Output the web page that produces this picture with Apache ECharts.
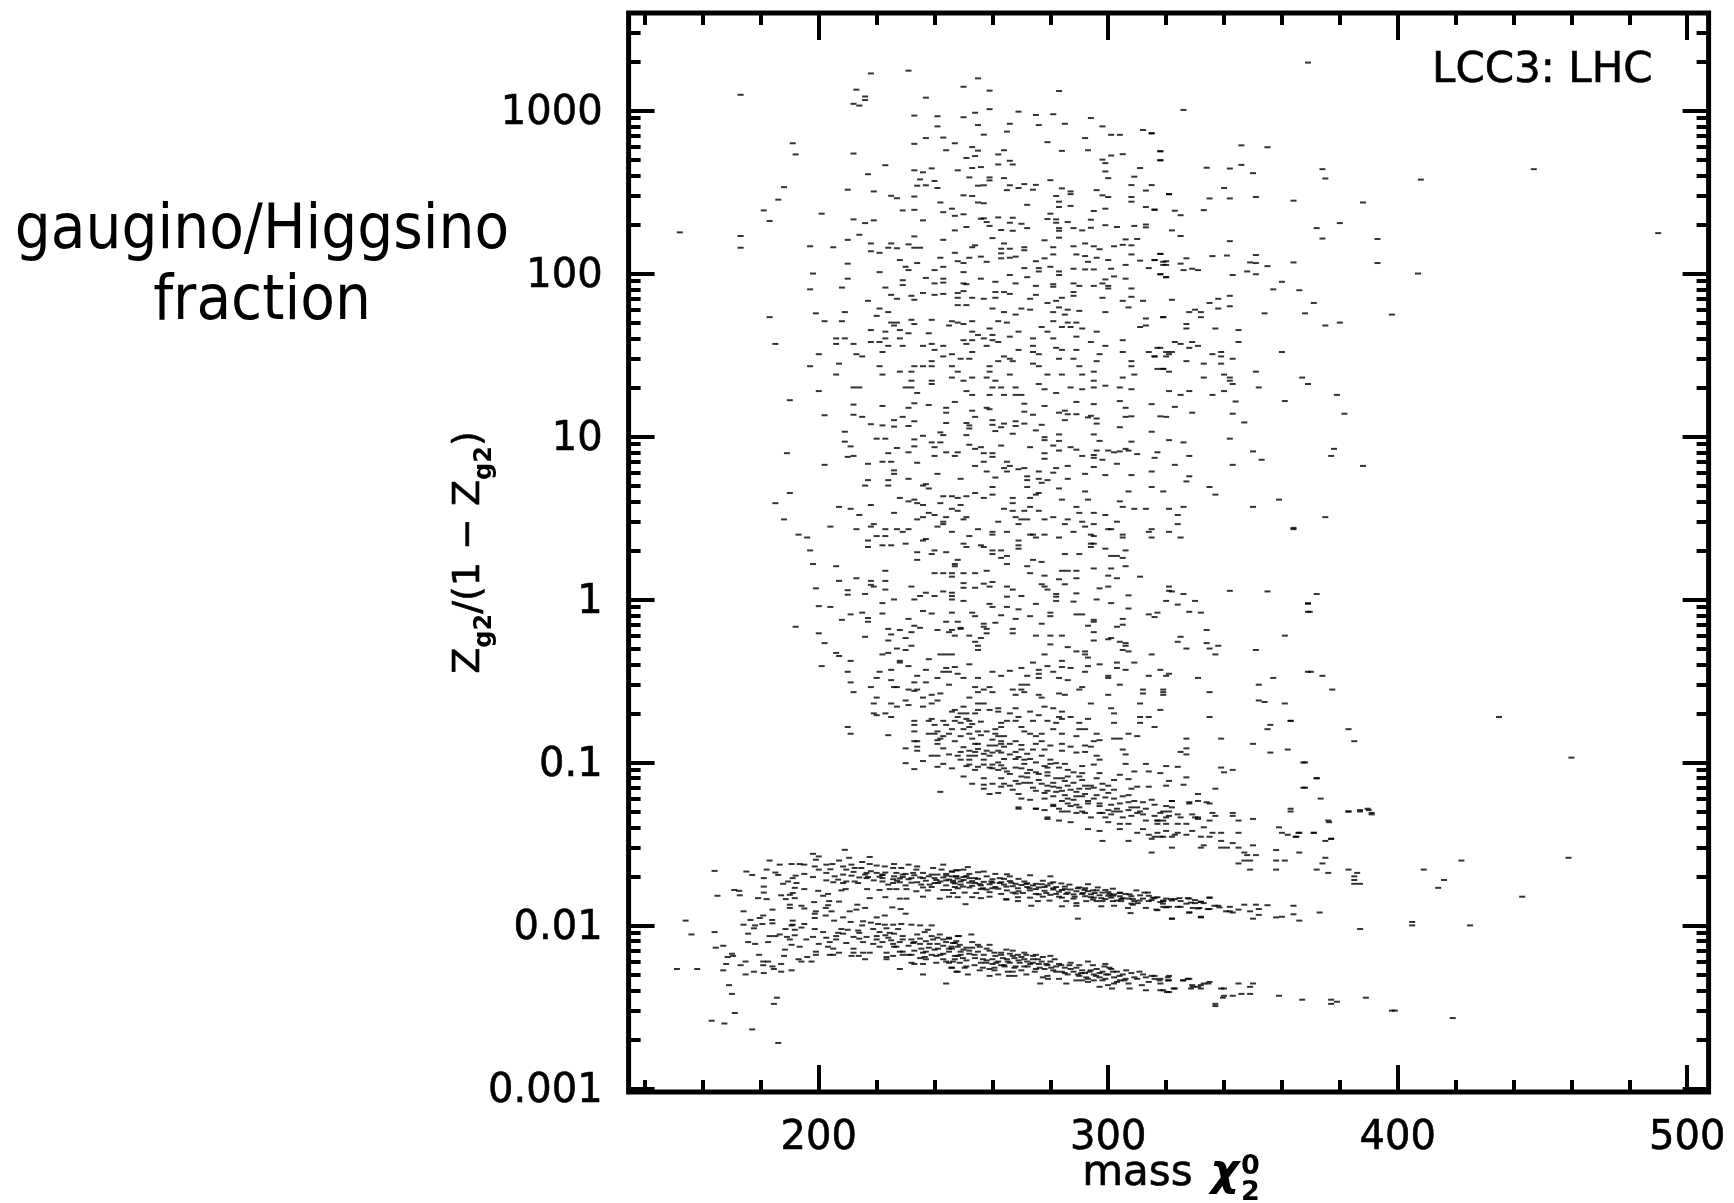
<!DOCTYPE html>
<html><head><meta charset="utf-8">
<style>html,body{margin:0;padding:0;background:#fff}#c{width:1734px;height:1203px}</style>
<script src="https://cdn.jsdelivr.net/npm/echarts@6/dist/echarts.min.js"></script></head>
<body><div id="c"></div>
<script>
const xMajor=[200,300,400,500];
const xMinor=[140,160,180,220,240,260,280,320,340,360,380,420,440,460,480];
const yMajor=[0.001,0.01,0.1,1,10,100,1000];
const yMinor=[0.002,0.003,0.004,0.005,0.006,0.007,0.008,0.009,0.02,0.03,0.04,0.05,0.06,0.07,0.08,0.09,0.2,0.3,0.4,0.5,0.6,0.7,0.8,0.9,2,3,4,5,6,7,8,9,20,30,40,50,60,70,80,90,200,300,400,500,600,700,800,900,2000,3000];
// mass, ratio pairs
const cloudTop=[218,1690,231,1758,255,1577,250,1400,259,1325,283,1318,213,1344,216,1220,216,1160,212,1100,214,1073,173,1250,237,1200,233,932,241,923,250,910,254,970,259,1020,269,985,275,940,281,950,294,900,241,800,255,815,266,830,276,815,285,830,298,800,312,760,315,725,301,710,304,710,257,712,265,743,237,678,243,683,292,678,279,640,247,630,233,625,191,630,192,538,212,545,244,571,253,597,255,568,264,571,262,538,284,566,293,571,318,563,318,495,305,540,301,530,298,500,299,476,251,512,254,526,266,492,262,467,267,467,223,462,256,450,253,444,248,430,233,430,236,418,239,442,217,407,311,444,299,423,252,389,259,389,259,373,264,385,309,393,300,385,235,378,240,370,280,374,308,349,315,349,188,339,234,346,237,348,241,335,255,346,257,348,266,348,265,325,269,335,271,354,275,350,274,327,284,333,296,325,313,323,210,327,219,319,287,319,287,307,186,284,225,300,227,290,233,297,250,302,253,299,298,302,300,295,282,299,308,295,321,307,255,273,257,270,242,273,308,276,283,276,272,264,283,256,287,260,181,244,229,244,233,246,246,250,299,250,295,242,313,256,316,246,243,238,201,233,247,226,250,231,280,233,279,216,256,217,257,218,262,221,267,220,258,207,266,205,212,215,219,212,216,204,183,210,236,212,282,215,282,205,286,207,270,202,294,214,313,200,313,192,309,196,303,193,299,198,294,191,288,190,291,184,272,190,259,196,251,193,247,184,263,185,267,183,283,190,283,183,152,179,173,170,173,144,214,173,210,161,233,169,243,161,260,165,278,160,283,166,306,162,310,163,197,147,205,145,218,153,225,153,231,151,233,144,235,144,224,144,227,143,218,137,221,134,254,149,253,145,264,153,263,142,266,142,271,145,271,139,281,145,288,147,292,153,295,147,302,147,305,150,308,149,297,141,263,133,247,134,308,131,318,132,289,131,292,128,296,125,281,131,278,124,275,119,242,125,252,125,248,119,250,116,256,127,258,118,263,124,266,125,268,127,228,121,234,116,210,115,293,118,300,121,311,120,316,121,319,118,319,113,306,113,230,110,231,105,240,105,243,110,271,108,276,108,280,110,276,103,283,103,288,107,292,106,295,106,301,107,314,108,250,102,221,102,198,100,210,93,229,91,237,94,243,93,256,93,266,98,272,95,283,98,302,96,306,93,299,92,318,99,320,95,240,87,243,88,250,87,251,86,261,89,268,87,281,86,288,87,281,83,275,84,290,84,295,84,298,87,300,84,300,81,208,82,229,85,197,80,223,82,308,81,288,77,236,76,240,74,243,75,248,76,250,78,261,77,264,77,266,75,288,73,298,71,308,72,275,74,225,74,227,70,232,73,233,69,217,68,248,71,253,71,257,70,261,71,273,70,284,71,312,68,305,68,279,66,282,68,248,64,251,64,307,62,221,61,260,61,264,58,270,61,273,60,283,62,286,60,290,59,299,58,281,58,224,58,209,58,199,57,285,56,220,55,268,56,183,54,319,54,313,53,232,52,239,52,202,51,208,51,225,50,227,50,233,49,246,51,248,50,253,51,262,51,265,50,281,51,286,50,289,50,313,48,245,48,250,49,277,47,284,47,287,47,291,46,311,47,226,48,228,45,218,45,223,44,231,43,238,43,259,46,253,44,255,42,269,44,279,44,296,44,228,40,223,40,206,40,209,40,260,42,266,41,274,40,281,40,289,41,250,39,253,39,257,40,260,39,305,39,206,37,212,37,218,38,221,38,224,36,185,37,229,36,236,36,239,37,243,36,251,37,258,36,262,38,294,38,299,36,274,36,282,35,284,34,269,34,289,34,297,32,305,33,314,33,317,35,320,33,316,31,320,31,200,32,213,32,215,31,222,33,240,34,246,32,253,33,274,33,276,32,243,31,249,30,252,30,264,31,266,30,283,30,288,30,239,29,262,29,267,29,274,28,296,29,308,29,207,28,197,27,221,27,233,27,239,27,246,27,276,27,259,27,236,27,308,27,290,27,317,26,319,26,206,24,222,24,228,25,232,25,259,25,248,25,266,24,279,24,284,24,295,25,291,24,305,23,309,24,246,23,250,22,253,23,258,23,261,22,232,22,239,22,295,22,200,19,212,20,214,20,230,20,232,20,239,21,260,20,263,20,268,20,276,21,287,20,291,19.5,295,20,299,20.5,304,20,308,19.5,278,19.5,234,18.5,251,19,253,18,259,18,270,18,282,18.5,264,18,268,18];
const cloudTopRight=[369,1970,326,1009,315,726,346,612,355,596,318,563,318,496,334,446,342,441,346,464,350,413,374,437,375,383,408,377,447,437,321,307,340,335,335,289,342,289,351,295,364,280,388,273,316,247,323,243,325,228,333,245,322,184,325,170,342,158,372,190,380,204,374,164,393,163,490,177,318,132,316,121,320,119,320,113,325,115,327,124,336,128,341,129,351,130,349,117,351,116,355,111,364,117,393,116,326,105,329,107,331,105,318,99,320,95,343,98,348,103,351,99,407,100,360,89,357,80,366,79,322,69,335,66,338,70,342,73,338,61,342,63,371,66,330,60,328,58,332,58,354,57,368,57,398,56,319,54,332,54,327,49,327,46,337,46,345,45,375,48,380,50,345,38,323,38,325,37,329,38,331,36,328,35,318,35,322,33,321,32,316,31,336,32,339,33,339,31,360,33,343,30,339,28,327,29,333,28,351,25,319,26,321,25,333,23,340,24,342,23,342,22,367,23,369,21,343,21,352,20,321,19,325,18,328,19,336,18,340,19,379,18,381.6,13.8,378,8.4,377,7.6,388,6.6,375,3.2,364,2.75,369,.95,369.6,.84,369,.36,374,.34,377.4,.28,363,.18,435,.19,383,.16,385,.135,460,.107,367.4,.1,372,.08,367.4,.07,373.4,.06,383,.05,387,.051,389.6,.052,391,.049,376.3,.043,365.7,.037,371,.037,364.7,.035,377,.034];
const cloudMiddle=[190,16.7,212,15.7,222,15.4,231,15,233,16,238,15.6,244,15,247,16.3,253,14.4,258,15,259,14.7,271,15.9,278,15.4,289,16.3,295,15.8,304,16.5,306,15,315,15.8,323,15.2,344,16.4,361,16.5,271,14.2,283,14,285,14.4,286,13.7,289,13.7,274,13.6,294,13.4,293,13.1,296,12.9,296,12,306,13.2,308,13.3,318,13.3,320,13.2,329,14,343,13.8,347,12.2,202,13.5,212,13.6,215,13.2,229,13.2,226,12.6,233,12.4,244,14,254,13.2,260,12.6,285,12.6,218,11.9,222,11.7,226,11.5,231,11.6,244,12.1,251,12.1,252,11.7,252,11.2,260,11.8,264,12,268,12.4,268,11.6,271,12,277,11.8,263,11.4,304,11.4,209,10.7,220,9.7,223,9.7,236,10.1,242,10.6,243,10.2,251,10.2,261,10.8,267,10.4,275,10.9,283,10.3,278,9.9,278,9.5,295,10.3,315,10.7,342,9.7,233,9.6,283,9.4,297,9.4,308,9.3,321,9.5,326,9.2,209,9.3,211,8.7,239,9.2,242,9.2,233,8.7,227,8.5,240,8.6,252,8.9,263,8.8,254,8.4,256,8.6,273,8.6,281,8.8,287,8.6,289,8.3,306,8.4,283,8.2,296,8.2,300,8.2,302,8,304,8.1,307,8.2,317,8,189,7.9,224,7.9,231,8,244,8,248,8,257,7.9,260,7.9,278,7.9,310,7.8,350,8.1,212,7.6,210,7.5,240,7.6,247,7.6,260,7.5,291,7.6,295,7.7,295,7.4,278,7.3,316,7.4,328,7.6,353,7.2,257,7,265,7,298,7.2,217,6.8,222,7,225,7,234,6.9,266,6.6,303,6.8,323,6.7,343,6.7,202,6.7,254,6.6,264,6.4,269,6.3,271,6.4,295,6.5,286,6.6,282,6.4,226,6.2,258,6.1,265,6.1,276,6.1,281,6,226,5.9,241,5.9,292,5.9,308,5.8,299,5.8,315,6.1,272,5.7,261,5.6,276,5.5,217,5.4,224,5.4,231,5.5,249,5.5,272,5.4,279,5.4,286,5.5,328,5.7,327,5.3,216,5,224,5,236,5,237,5.1,277,5.2,272,4.9,335,4.9,238,4.8,260,4.9,283,4.8,292,4.6,315,4.9,319,4.6,307,4.6,337,4.4,190,4.5,254,4.5,276,4.5,275,4.4,228,4.2,243,4.3,246,4.3,248,4.2,251,4.3,260,4.4,267,4.2,257,4.2,273,4.2,293,4.1,231,4,359,4.1,233,4.1,234,3.9,242,3.9,236,3.8,249,3.8,267,3.9,284,4.1,304,4,305,3.7,185,3.9,207,3.7,218,3.8,289,3.7,309,3.6,313,3.6,321,3.6,326,3.7,350,3.7,211,3.6,246,3.6,264,3.6,267,3.5,271,3.5,273,3.7,276,3.5,226,3.4,238,3.4,248,3.5,290,3.4,295,3.4,214,3.3,240,3.3,324,3.3,299,3.3,281,3.2,268,3.2,236,3.2,244,3.2,251,3.2,270,3.1,272,3.1,278,3.1,286,3.1,188,3.1,234,3.1,250,3.1,243,3,262,3,291,3,303,3,219,2.9,285,2.9,269,2.9,295,2.9,243,2.9,324,2.9,204,2.8,218,2.8,292,2.8,213,2.7,223,2.7,227,2.7,231,2.7,241,2.8,255,2.7,301,2.7,300,2.7,315,2.7,364,2.7,229,2.6,246,2.6,321,2.6,260,2.6,260,2.5,265,2.6,288,2.6,273,2.5,274,2.5,314,2.6,193,2.5,220,2.45,223,2.45,196,2.4,252,2.45,278,2.5,294,2.5,295,2.45,305,2.5,305,2.4,275,2.4,283,2.4,315,2.4,325,2.4,217,2.3,236,2.3,237,2.35,269,2.3,294,2.2,217,2.1,222,2.15,225,2.15,230,2.2,250,2.2,256,2.15,257,2.1,269,2.15,295,2.2,251,2.1,269,2.05,294,2.1,299,2.05,306,2,240,2,197,2,234,1.95,244,1.95,260,2,263,2,239,1.9,260,1.9,265,1.85,285,1.9,290,1.9,301,1.85,303,1.85,263,1.8,234,1.75,248,1.75,274,1.75,305,1.8,277,1.7,198,1.65,247,1.65,247,1.6,265,1.65,272,1.6,206,1.6,306,1.6,301,1.55,295,1.55,258,1.5,284,1.5,286,1.5,289,1.5,223,1.5,246,1.45,240,1.45,243,1.45,250,1.45,254,1.45,273,1.45,300,1.4,278,1.4,289,1.35,303,1.35,311,1.38,213,1.35,246,1.38,207,1.3,283,1.33,218,1.3,223,1.3,250,1.26,257,1.25,260,1.28,277,1.24,285,1.24,219,1.2,218,1.23,265,1.2,321,1.2,267,1.15,250,1.18,254,1.18,259,1.2,278,1.2,279,1.15,297,1.17,300,1.2,223,1.15,232,1.2,199,1.17,321,1.13,342,1.13,355,1.12,237,1.1,243,1.12,246,1.1,210,1.14,210,1.07,216,1.08,322,1.12,326,1.08,372,1.08,289,1.09,282,1.08,307,1.06,246,1.05,235,1.05,240,1.05,265,1.04,270,1.05,282,1.04,226,1,233,1,246,1,296,1,282,.98,250,.98,288,.97,222,.95,320,.98,330,.98,275,.94,301,.95,324,.93,259,.94,260,.9,200,.91,204,.9,265,.9,369,.94,369,.84,269,.87,307,.88,236,.85,239,.82,246,.83,253,.83,254,.79,222,.82,211,.81,215,.83,280,.83,289,.81,291,.81,314,.81,317,.83,316,.78,328,.84,332,.83,263,.8,273,.79,280,.79,231,.76,217,.77,217,.73,208,.75,244,.73,248,.73,261,.72,268,.76,295,.75,295,.73,305,.76,305,.7,303,.68,277,.71,233,.69,257,.71,257,.68,293,.69,192,.68,235,.67,228,.65,224,.66,241,.65,246,.65,249,.67,249,.66,267,.66,267,.62,258,.66,334,.65,200,.62,225,.61,232,.63,245,.63,247,.6,252,.6,258,.62,275,.6,280,.6,284,.6,295,.63,325,.59,361,.6,216,.59,230,.58,256,.58,254,.55,295,.56,301,.58,300,.57,224,.56,324,.55,304,.55,306,.54,306,.52,334,.54,202,.54,280,.53,255,.52,232,.52,227,.5,255,.49,230,.49,305,.49,327,.5,335,.5,338,.52,351,.49,286,.51,289,.48,292,.48,206,.47,224,.47,222,.46,242,.46,244,.46,246,.46,207,.45,307,.48,292,.46,315,.46,337,.46,278,.46,293,.44,211,.42,228,.42,238,.43,228,.41,274,.41,284,.42,303,.41,309,.41,252,.4,231,.39,201,.39,279,.39,293,.39,297,.4,284,.385,287,.38,247,.385,244,.38,270,.38,276,.37,225,.37,237,.37,303,.38,306,.37,318,.37,266,.365,260,.36,281,.36,210,.36,221,.36,292,.36,370,.36,243,.36,245,.36,248,.35,276,.35,321,.35,220,.33,234,.34,241,.33,250,.33,255,.33,263,.34,272,.34,276,.33,300,.34,300,.33,314,.34,320,.34,331,.33,357,.33,225,.32,237,.31,283,.33,286,.32,245,.3,211,.31,233,.31,304,.3,352,.3,218,.29,226,.29,227,.29,254,.29,259,.29,270,.3,272,.3,212,.27,231,.28,234,.28,233,.275,257,.28,255,.27,260,.27,267,.28,270,.28,290,.28,291,.29,312,.28,319,.28,312,.265,319,.27,319,.26,335,.27,276,.26,283,.265,271,.27,285,.26,268,.26,277,.25,300,.26,220,.25,236,.25,239,.26,242,.265,252,.25,241,.24,230,.24,352,.24,354,.235,361,.23,311,.23,294,.23,219,.23,225,.23,239,.23,231,.225];
const cloudDense=[227,.22,236,.22,247,.21,250,.22,255,.23,257,.23,259,.21,255,.21,262,.215,268,.215,278,.22,281,.215,301,.215,318,.21,219,.2,223,.2,220,.195,225,.19,246,.205,249,.2,251,.2,254,.2,262,.205,266,.2,269,.19,273,.205,276,.195,283,.19,284,.205,287,.19,302,.2,311,.19,314,.19,335,.19,239,.185,238,.18,233,.18,243,.18,247,.18,249,.175,252,.18,263,.175,265,.18,268,.18,274,.18,279,.18,284,.185,282,.175,290,.175,293,.185,302,.175,311,.175,363,.18,356,.17,210,.165,233,.17,240,.17,244,.17,250,.16,246,.16,252,.165,263,.165,270,.165,281,.16,292,.16,290,.16,316,.165,355,.16,233,.155,241,.155,255,.155,258,.155,261,.16,261,.15,271,.155,273,.15,284,.15,296,.15,238,.15,240,.15,243,.145,252,.15,262,.145,264,.145,277,.15,289,.145,275,.145,307,.15,310,.145,304,.14,302,.14,224,.147,211,.15,327,.14,339,.14,242,.14,233,.135,234,.135,241,.137,247,.135,254,.13,263,.135,268,.135,277,.135,284,.13,295,.135,297,.137,350,.13,241,.13,255,.13,259,.127,261,.127,263,.13,270,.128,275,.13,280,.127,287,.125,292,.127,294,.125,234,.125,230,.122,243,.122,250,.124,327,.122,305,.12,362,.12,234,.118,325,.116,249,.116,254,.116,258,.118,260,.115,263,.115,268,.116,274,.12,278,.12,284,.118,289,.115,292,.116,356,.115,239,.11,241,.11,245,.112,248,.11,252,.11,254,.11,259,.11,277,.11,296,.11,306,.112,327,.112,236,.102,249,.104,252,.104,257,.104,264,.105,268,.105,280,.104,297,.104,230,.099,243,.098,257,.097,260,.097,262,.1,271,.098,282,.099,285,.098,295,.097,306,.098,313,.098,368,.1,241,.094,251,.095,259,.093,264,.092,268,.093,279,.093,291,.095,320,.095,324,.094,339,.093,233,.091,246,.092,254,.09,260,.092,279,.087,291,.086,297,.086,309,.088,314,.088,318,.086,343,.09,340,.087,266,.085,272,.086,275,.087,250,.082,257,.08,263,.08,270,.082,272,.081,286,.082,284,.08,296,.08,302,.078,307,.079,321,.077,327,.081,372,.08,253,.074,257,.073,260,.074,269,.074,273,.075,277,.074,281,.075,291,.078,294,.072,298,.074,304,.084,320,.072,326,.073,314,.071,310,.071,274,.07,263,.071,284,.067,257,.069,267,.068,275,.067,279,.067,287,.068,290,.069,293,.069,302,.068,308,.069,337,.069,368,.07,242,.066,259,.064,262,.065,269,.064,278,.065,300,.065,289,.062,307,.063,331,.064,270,.06,273,.059,278,.06,286,.06,291,.062,295,.06,315,.059,322,.058,328,.057,307,.057,309,.058,312,.057,286,.056,289,.055,293,.056,281,.054,334,.057,269,.053,297,.054,320,.054,316,.055,322,.053,363,.052,275,.052,303,.052,307,.051,300,.051,278,.051,286,.05,291,.05,304,.05,319,.05,324,.048,312,.048,316,.047,329,.048,336,.049,343,.049,279,.046,294,.046,299,.046,305,.046,331,.046];
const cloudCore=[248,.19,251,.185,253,.172,256,.178,245,.15,249,.145,253,.14,256,.147,260,.138,264,.125,266,.13,270,.12,272,.113,255,.121,252,.118,257,.113,262,.118,266,.112,269,.108,273,.105,275,.1,271,.104,278,.095,280,.098,283,.093,286,.09,288,.087,276,.085,279,.083,282,.08,285,.077,288,.075,290,.082,292,.072,295,.07,298,.068,300,.072,281,.071,283,.07,286,.072,289,.066,292,.064,296,.063,299,.061,302,.06,305,.062,310,.053,313,.052,318,.049,321,.047,317,.044,320,.046,252,.097,255,.094,262,.09,265,.088,263,.096,270,.092,273,.09,276,.078,268,.077,271,.075,266,.072,264,.074,279,.072,282,.066,285,.063,281,.062,284,.058,288,.059,293,.058,297,.056,301,.055,304,.056,308,.053,311,.05,290,.053,283,.052,287,.054,297,.049,301,.048,308,.047];
const curveTail=[269,.052,275,.052,281,.055,279,.045,283,.044,287,.043,284,.05,289,.049,292,.049,298,.049,293,.039,297,.038,298,.033,307,.033,300,.043,304,.042,307,.042,310,.037,314,.036,315,.034,315,.028,318,.035,319,.044,313,.044,310,.049,302,.05,317,.042,304,.039,312,.039,363,.05,383,.05,387,.05,390,.051,391,.048,376,.044,345,.044,350,.045,343,.047,337,.047,335,.056,331,.058,328,.056,322,.058,321,.05,325,.046,330,.046,331,.045,335,.044,317,.044,320,.042,324,.042,327,.042,333,.04,359,.04,360,.037,362,.036,366,.037,371,.037,365,.035,375,.033,377,.034,345,.037,339,.037,336,.037,329,.038,324,.037,320,.038,317,.037,316,.035,319,.035,322,.035,323,.036,327,.036,332,.035,335,.035,339,.033,322,.03,333,.031,332,.03,339,.03,341,.03,343,.032,345,.03,350,.031,347,.028,348,.027,351,.027,349,.025,347,.025,345,.024,349,.022,358,.029,366,.028,358,.025,361,.025,358,.022,375,.026,374,.024,372,.022,376,.021,383,.022,386,.021,385,.02,385,.019,385,.018,387,.018,422,.025,409,.022,416,.019,414,.017,443,.015,459,.026,405,.0105,405,.01,425,.01,387,.0095];
const bandUpper=[209,.0291,198,.0275,200,.0265,199,.0253,210.5,.026,217.6,.0263,183,.025,207,.025,215,.0245,186.5,.0236,190.6,.0238,193.4,.0238,195,.0236,198.6,.023,202.6,.0236,204.7,.0238,208.4,.023,211.3,.0236,217.6,.0238,220,.0233,226,.0238,231,.0236,234,.023,243,.0236,164,.0216,175,.0214,182,.022,185,.0211,200,.022,202.6,.021,204,.0221,209.5,.022,212.4,.0225,214.7,.0225,222.8,.023,225.7,.0225,228.5,.0225,233.7,.022,239.5,.0225,242.4,.022,246,.0214,248,.0218,195,.0207,186,.0204,192,.0202,177,.0204,198,.0198,205.5,.02,208.4,.0205,211.3,.0202,216.5,.021,220,.021,222,.0205,226.8,.021,230,.0207,232.6,.021,236,.021,239,.0205,244,.0202,247.5,.02,181,.0195,191,.0195,202.6,.0189,206.7,.0191,209.5,.0186,212.4,.0186,216.5,.0195,222,.0195,225.7,.0192,229,.0198,232,.0195,236,.0195,240.6,.019,244,.0189,189.4,.0186,187.7,.018,192.3,.0182,205,.0184,208.4,.0182,213.6,.0182,222,.0186,225.7,.0182,228,.0184,235.4,.0178,238.3,.0178,241.2,.0182,246.4,.0184,181,.0173,195,.0167,191.7,.017,199.8,.0163,207.8,.0164,209.3,.0167,216.7,.0167,221,.0165,224.5,.0167,226.8,.0167,230.3,.0167,233.7,.0162,237.7,.0164,243,.0165,245,.0165,181,.0159,170.8,.0165,172.5,.0163,191,.0158,203.2,.0156,201.5,.0152,165,.0152,172.7,.0153,187,.0153,190,.0154,179,.0147,182,.0145,188.6,.0145,191.7,.0147,217.6,.0147,223,.0149,228,.0146,230.3,.0146,236,.015,241.8,.0146,245,.015,198.4,.0139,207,.014,203.6,.0141,190,.0134,190,.0128,194,.0132,195,.0127,203.2,.0133,202.4,.0128,213.3,.0134,174,.0122,184,.0125,199,.0122,198.6,.0118,204.4,.0122,210.7,.0122,213,.0125,216,.0128,225.4,.0129,228.3,.0126,230,.0118,220,.0112,222.8,.0115,202.4,.0115,180.8,.0115,176.4,.0108,179.6,.0111,183.9,.0108,191,.0107,198.6,.0111,205.3,.0107,208.4,.0112,154,.0107,215.3,.0106,211,.0105,251.5,.0228,250,.022,247.5,.0218,246,.0214,257,.0214,255,.0212,261,.0207,265,.0206,252,.0207,273,.0203,280,.02,247.5,.02,250,.0198,254,.0195,258,.02,262.5,.0195,266,.02,269,.0193,277.4,.0188,281,.0184,283.8,.0181,246.4,.0188,249,.0186,252,.0183,255.6,.0179,259.6,.0186,262.5,.0182,266.5,.0183,271.7,.018,275,.018,286.6,.0178,293,.0179,296.4,.0171,301.6,.0168,247,.0172,249.8,.0173,253,.0175,256.7,.0169,260,.0169,264.8,.0173,268.8,.0169,272.8,.0169,278,.0172,281,.0169,285,.0167,289.5,.0169,291.8,.0165,294.7,.0164,299,.0165,309.7,.0164,312.5,.0159,313.7,.0159,246.4,.0158,250.4,.0159,254.4,.0158,259,.016,263,.0156,267,.0159,270.5,.0158,275,.0156,278.6,.0158,282,.0156,285.5,.0156,291.2,.0158,295.3,.0158,300.4,.0156,304,.0158,307.4,.0155,248,.0149,253,.0149,256,.0147,264.8,.0145,268.8,.0149,273,.0148,277.4,.015,283,.015,288.4,.015,294,.0149,297.6,.0147,301.6,.0152,304.5,.0145,315.4,.0148,321.7,.0145,324.6,.0147,327.5,.0147,335,.0148,264.8,.0144,259,.015,250.7,.0135,273.4,.0132,289,.0137,298,.0141,301.6,.0141,304.5,.0141,308.5,.0145,310.8,.0142,314,.0141,319,.0141,279.7,.0142,275.7,.0141,268.8,.0141,285.5,.0141,292.4,.0141,294.7,.0144,284,.0131,289,.0132,297.6,.0131,302,.0132,306.8,.0128,308.5,.0134,310.2,.0137,318.9,.0136,328.6,.0138,332,.0139,336.7,.0132,329.2,.0128,331.5,.0128,334.4,.0126,338.4,.0129,340.7,.0122,342,.0122,313,.0128,316.6,.0125,320,.0129,324,.013,307.7,.0119,328,.012,332,.0113,289.5,.011,322,.011,316,.0147,319,.0142,323,.0145,328,.0146,335,.0148,332,.014,330,.0137,319,.013,321,.013,325,.013,331,.0127,335,.0126,338,.0132,342,.013,345,.0125,347,.0134,351,.0134,355,.0133,364,.0132,343,.012,349,.0122,352,.0126,352,.0116,364,.0117,373,.012,358,.0112,360,.0113,350,.011,366,.0107,322,.011,332,.0112,317,.0124,328,.012];
const bandUpperCore=[212,.0213,214,.0197,216,.0205,218,.0215,219,.0189,221,.0199,223,.0211,224,.0178,226,.02,227,.0188,229,.0205,230,.0176,231,.0192,233,.0203,234,.0184,235,.0197,237,.0188,238,.02,239,.0172,240,.0195,241,.0205,242,.0186,243,.0197,244,.0176,245,.0191,246,.02,247,.0181,248,.0194,249,.0178,250,.019,251,.0201,252,.0171,253,.0187,254,.0182,255,.0193,256,.0176,257,.0185,258,.0166,259,.0179,260,.0192,261,.0172,262,.0168,263,.0184,264,.0178,265,.0164,266,.0187,267,.0174,268,.018,269,.0162,270,.0177,271,.0186,272,.0172,273,.0164,274,.0176,275,.0167,276,.0155,277,.0179,278,.0163,279,.0176,280,.0154,281,.0166,282,.0172,283,.0161,284,.0148,285,.0173,286,.0159,287,.0166,288,.0146,289,.0162,290,.0171,291,.0156,292,.0151,293,.0162,294,.0155,295,.0148,296,.0164,297,.0153,298,.0159,299,.0145,300,.016,301,.0148,302,.0155,303,.0142,304,.0151,305,.0147,306,.0156,307,.0146,308,.0151,309,.0141,311,.0153,312,.0146,314,.0152,315,.0143,317,.0149,318,.0139,320,.0146,322,.0142,325,.0141,327,.0136,330,.0143,333,.0137,236,.0171,232,.0183,228,.0194,222,.0204,217,.0198,240,.0182,244,.0207,248,.0169,252,.0195,256,.0167,260,.0183,264,.0193,268,.0157,272,.0181,276,.0171,280,.0181,284,.0165,288,.0155,292,.0169,296,.0141,300,.0152,304,.0159,308,.0136];
const bandLower=[174,.0101,178,.01,180.5,.0102,184,.0103,191,.0101,195,.0102,218,.0104,220.5,.0102,215,.01,222.8,.0101,225.7,.0101,228.5,.0102,232,.0101,235,.01,239,.01,177.6,.0096,190.6,.01,194,.0097,198.6,.0095,207.8,.0095,210,.0094,213.6,.0093,218.8,.0095,223.4,.0096,227.4,.0095,237.7,.0094,164,.0091,156,.0088,175.6,.0089,186.5,.0088,188.5,.0095,191.7,.0094,201.5,.0091,206.7,.009,208.4,.0089,214,.009,221,.0091,224.5,.009,236.6,.0091,185,.0086,183,.0086,189,.0085,191.7,.0087,198,.0085,206,.0086,212,.0085,216.5,.0085,220,.0086,224,.0084,241.8,.0088,245,.0084,248,.0086,190,.0082,195.7,.0082,202.6,.0084,206,.0082,214,.0083,220,.0082,229,.0082,235,.0083,239.5,.0082,243,.0082,175.6,.0079,178,.0077,182.5,.0079,200,.0077,203.8,.0079,209.5,.0078,215.3,.0079,218.8,.0077,222,.0079,225.7,.0077,232.6,.0078,238.3,.0077,246.4,.0078,164.4,.0073,167,.0075,190.6,.0076,193.4,.0074,188.3,.0071,203.2,.0074,205,.0072,212,.0072,221,.0074,226.8,.0074,235.4,.0072,241.2,.0072,245,.0072,199,.0069,203.8,.0066,207,.0068,212,.0068,215.3,.0068,217.6,.0068,223.4,.0068,228,.0069,232,.0066,237,.0069,243,.0067,170,.0067,179.4,.0066,170.4,.0065,168.5,.0064,188,.0065,199,.0066,205,.0066,211.3,.0065,213.8,.0065,223.4,.0064,225.7,.0065,229,.0066,236.6,.0064,240.6,.0065,248,.0065,193,.0062,196,.0064,197.5,.006,194,.006,174.7,.006,168,.0058,173,.0057,180.8,.006,182.5,.006,180.8,.0057,187,.0058,232,.0059,233,.0058,236,.0058,240.6,.0059,244,.006,216,.0062,223.4,.0062,245,.0059,184,.0056,167,.0053,158,.0054,151,.0054,184.5,.0054,190.6,.0053,177.6,.0052,181,.0051,187,.0052,174.7,.005,228,.0054,246,.0055,248,.0052,236,.005,244,.0044,169,.0043,170,.0038,185.5,.0036,184.5,.0033,171,.0029,163,.0026,167.4,.0025,177,.0023,186,.0019,252.7,.0088,248.4,.0086,245,.0083,247.5,.008,253,.0079,259,.0076,248.7,.0076,245.8,.0074,251,.0073,255.6,.0074,258,.0072,264.8,.0071,267,.007,249,.0069,252,.007,253.8,.0066,260.7,.0068,263,.0066,266,.0067,268.8,.0066,271.7,.0066,274,.0065,277.4,.0064,280,.0065,247,.0065,249.8,.0063,256.7,.0062,260,.0062,263.6,.0063,267.6,.0063,271,.0062,275.7,.0062,246.4,.006,248.7,.0059,253.8,.0057,257.9,.0059,261.3,.0059,265.3,.006,269.4,.0059,274,.0059,278.6,.0058,281.5,.0062,293,.006,245.8,.0055,250.4,.0055,256.7,.0055,260.7,.0055,264.2,.0056,267.6,.0055,272.2,.0056,276.3,.0055,280.3,.0055,283.8,.0057,286.6,.0057,290,.0057,294.7,.0057,298.7,.0056,300.4,.0055,247.5,.0052,251.5,.005,255.6,.0053,260.7,.0053,265.3,.0052,270,.0053,274.6,.0052,282,.0052,285,.0051,290.7,.0051,293.5,.0052,297,.0051,301.6,.0052,306.2,.0053,310.8,.0052,259,.0049,262,.005,265.7,.0049,267.6,.0049,271.7,.005,277.4,.0048,279.2,.0047,289.5,.005,292.4,.0048,295.8,.0049,299.3,.005,303.9,.0049,309,.0048,313,.0048,316,.0049,320.6,.0048,320.6,.0046,317.7,.0046,305.6,.0046,289,.0046,285.5,.0044,276.5,.0044,293,.0045,298,.0046,302,.0044,297,.0042,299.9,.0043,301.3,.0041,307.4,.0041,311.6,.0043,313,.004,318,.004,320.3,.0039,322.6,.0041,325.8,.0046,327.5,.0047,329.2,.0042,332,.0043,334.6,.0044,328.6,.0041,332,.0041,339,.0041,339.6,.0036,337,.0032,315,.0049,318,.0047,321,.0049,321,.0046,326,.0046,328,.0047,319,.004,323,.0041,321,.0039,329,.0043,331,.0042,333,.0044,335,.0045,340,.0041,345,.0044,349,.0042,350,.0044,340,.0037,343,.0037,346,.0038,349,.0038,337,.0033,359,.0037,367,.0035,377,.0035,377,.0033,379,.0034,389,.0036,398,.003,399,.003,419,.0027];
const bandLowerCore=[223,.0087,225,.0081,226,.0089,228,.0079,229,.0086,231,.0075,232,.0082,233,.007,234,.0088,235,.0077,236,.0068,237,.008,238,.0073,239,.0086,240,.0071,241,.0077,242,.0066,243,.0075,244,.0079,245,.0069,246,.0072,247,.0062,248,.0074,249,.0066,250,.0071,251,.0061,252,.0067,253,.0073,254,.0063,255,.0069,256,.0059,257,.0066,258,.0061,259,.007,260,.0058,261,.0065,262,.006,263,.0068,264,.0057,265,.0062,266,.0059,267,.0065,268,.0056,269,.0061,270,.0064,271,.0056,272,.006,273,.0058,274,.0062,275,.0054,276,.0058,277,.006,278,.0054,279,.0057,280,.006,281,.0053,282,.0056,283,.0058,284,.0052,285,.0055,286,.005,287,.0054,288,.0052,289,.0055,290,.0049,291,.0053,292,.0051,293,.0047,294,.0053,295,.005,296,.0054,297,.0048,298,.0052,299,.0047,300,.005,301,.0054,302,.0048,303,.0052,304,.0046,305,.005,306,.0047,308,.0051,310,.0047,312,.005,314,.0045,316,.0047,318,.0044,231,.0066,235,.0063,239,.0066,243,.0062,247,.0078,251,.0056,255,.0076,259,.0054,263,.0057,267,.0052,271,.0068,275,.0066,279,.0049,283,.0047,287,.0059,291,.0046,295,.0046,299,.0058,303,.0045,307,.0044,226,.0074,229,.0069,233,.0079,237,.0062,241,.0084];
function pairs(a){const o=[];for(let i=0;i<a.length;i+=2)o.push([a[i],a[i+1]]);return o;}
const pts=[cloudTop,cloudTopRight,cloudMiddle,cloudDense,cloudCore,curveTail,bandUpper,bandUpperCore,bandLower,bandLowerCore].flatMap(pairs);
const xr={min:134.3,max:507.4},yr={min:0.00095,max:3970};
const tickLine={color:'#000',width:4};
const labFont={color:'#000',fontFamily:'DejaVu Sans',fontSize:40,textBorderColor:'#000',textBorderWidth:0.6};
function xa(pos,vals,len,lab){return {type:'value',...xr,position:pos,splitLine:{show:false},axisLine:{show:false},
 axisTick:{show:true,inside:true,length:len,lineStyle:tickLine,customValues:vals},
 axisLabel:lab?{show:true,customValues:vals,margin:27,...labFont,formatter:v=>String(v)}:{show:false}};}
function ya(pos,vals,len,lab){return {type:'log',logBase:10,...yr,position:pos,splitLine:{show:false},axisLine:{show:false},
 axisTick:{show:true,inside:true,length:len,lineStyle:tickLine,customValues:vals},
 axisLabel:lab?{show:true,customValues:vals,margin:26,formatter:v=>'{a|'+v+'}',rich:{a:{...labFont,padding:[6,0,0,0]}}}:{show:false}};}
const x0=xa('bottom',xMajor,27,true);
x0.name='{m|mass}{c|χ}{p|}';x0.nameLocation='middle';x0.nameGap=60;x0.nameMoveOverlap=false;
x0.nameTextStyle={rich:{m:{fontFamily:'DejaVu Sans',fontSize:42,color:'#000',textBorderColor:'#000',textBorderWidth:0.6},c:{fontFamily:'DejaVu Sans',fontStyle:'italic',fontWeight:'bold',fontSize:44,color:'#000',padding:[0,0,0,18]},p:{width:16}}};
const y0=ya('left',yMajor,26,true);
y0.name='{z|Z}{s|g2}{z|/(1 − Z}{s|g2}{z|)}';y0.nameLocation='middle';y0.nameRotate=90;y0.nameGap=132;y0.nameMoveOverlap=false;
y0.nameTextStyle={rich:{z:{fontFamily:'DejaVu Sans',fontSize:38,color:'#000',lineHeight:46,verticalAlign:'top',textBorderColor:'#000',textBorderWidth:0.6},s:{fontFamily:'DejaVu Sans',fontWeight:'bold',fontSize:24,color:'#000',lineHeight:46,verticalAlign:'bottom'}}};
const option={animation:false,backgroundColor:'#fff',
 grid:{left:628.6,top:13,width:1080,height:1079,show:true,borderColor:'#000',borderWidth:5,backgroundColor:'transparent',outerBoundsMode:'none',containLabel:false},
 title:[{text:'gaugino/Higgsino\nfraction',left:257,top:191,textAlign:'center',textStyle:{fontFamily:'DejaVu Sans Condensed',fontSize:63,fontWeight:'normal',color:'#000',lineHeight:71}},
 {text:'LCC3: LHC',left:1427,top:45,textStyle:{fontFamily:'DejaVu Sans',fontSize:42,fontWeight:'normal',color:'#000',textBorderColor:'#000',textBorderWidth:0.6}}],
 xAxis:[x0,xa('bottom',xMinor,12,false),xa('top',xMajor,27,false),xa('top',xMinor,12,false)],
 yAxis:[y0,ya('left',yMinor,12,false),ya('right',yMajor,26,false),ya('right',yMinor,12,false)],
 graphic:[{type:'text',left:1241,top:1153,style:{text:'0',fontFamily:'DejaVu Sans',fontWeight:'bold',fontSize:27,fill:'#000'}},
 {type:'text',left:1241,top:1179,style:{text:'2',fontFamily:'DejaVu Sans',fontWeight:'bold',fontSize:27,fill:'#000'}}],
 series:[{type:'scatter',data:pts,symbol:'rect',symbolSize:[6,2],itemStyle:{color:'#000'},silent:true}]
};
echarts.init(document.getElementById('c')).setOption(option);
</script></body></html>
